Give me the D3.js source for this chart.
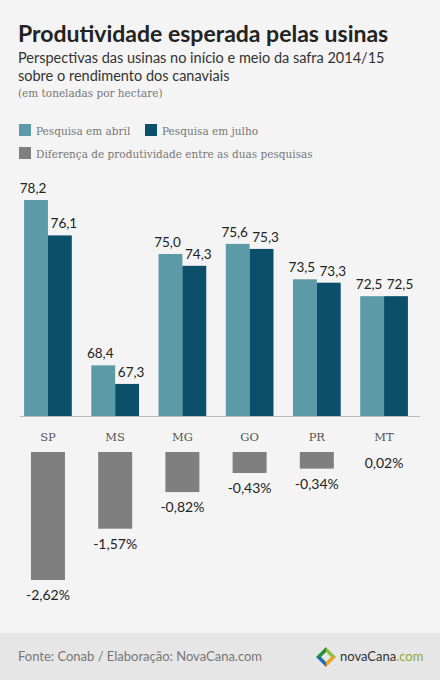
<!DOCTYPE html>
<html><head><meta charset="utf-8">
<script src="https://cdn.jsdelivr.net/npm/d3@7"></script>
<style>body{margin:0;background:#f4f4f4}</style></head>
<body><svg id="c" width="440" height="680"></svg>
<script>
const categories=["SP","MS","MG","GO","PR","MT"];
const abril=[78.2,68.4,75.0,75.6,73.5,72.5];
const julho=[76.1,67.3,74.3,75.3,73.3,72.5];
const diff=[-2.62,-1.57,-0.82,-0.43,-0.34,0.02];
const fmt=v=>v.toFixed(1).replace(".",",");
const fmtP=v=>v.toFixed(2).replace(".",",")+"%";

const svg=d3.select("#c");
svg.append("rect").attr("width",440).attr("height",680).attr("fill","#f4f4f4");
svg.append("rect").attr("y",633).attr("width",440).attr("height",47).attr("fill","#e6e6e6");
const sans="Lato, 'Open Sans', sans-serif";
const slab="'DejaVu Serif', serif";
svg.append("text").attr("x",18).attr("y",42).attr("font-family",sans).attr("font-weight",700).attr("font-size",23).attr("fill","#222").text("Produtividade esperada pelas usinas");
svg.append("text").attr("x",18).attr("y",63).attr("font-family",sans).attr("font-size",14.5).attr("fill","#333").text("Perspectivas das usinas no início e meio da safra 2014/15");
svg.append("text").attr("x",18).attr("y",81).attr("font-family",sans).attr("font-size",14.5).attr("fill","#333").text("sobre o rendimento dos canaviais");
svg.append("text").attr("x",18).attr("y",97).attr("font-family",slab).attr("font-size",10.5).attr("fill","#777").text("(em toneladas por hectare)");

const cA="#5c9aa8",cJ="#0b4f6a",cD="#7f7f7f";
const leg=[[19,124,cA,"Pesquisa em abril"],[145,124,cJ,"Pesquisa em julho"],[19,147,cD,"Diferença de produtividade entre as duas pesquisas"]];
leg.forEach(([x,y,c,t])=>{
  svg.append("rect").attr("x",x).attr("y",y).attr("width",12).attr("height",12).attr("fill",c);
  svg.append("text").attr("x",x+17).attr("y",y+10.5).attr("font-family",slab).attr("font-size",10.5).attr("fill","#777").text(t);
});

const x=d3.scaleBand().domain(categories).range([14,418]).paddingInner(0.29).paddingOuter(0.15);
const y=d3.scaleLinear().domain([65.4,78.2]).range([416,200]);
const yd=d3.scaleLinear().domain([0,-2.62]).range([452,580]);
const bw=x.bandwidth()/2;
const g=svg.append("g");
categories.forEach((c,i)=>{
  const x0=x(c);
  g.append("rect").attr("x",x0).attr("y",y(abril[i])).attr("width",bw).attr("height",y.range()[0]-y(abril[i])).attr("fill",cA);
  g.append("rect").attr("x",x0+bw).attr("y",y(julho[i])).attr("width",bw).attr("height",y.range()[0]-y(julho[i])).attr("fill",cJ);
  g.append("text").attr("x",x0+bw/2-3).attr("y",y(abril[i])-7).attr("text-anchor","middle").attr("font-family",sans).attr("font-size",13.5).attr("fill","#222").text(fmt(abril[i]));
  g.append("text").attr("x",x0+bw*1.5+4).attr("y",y(julho[i])-7).attr("text-anchor","middle").attr("font-family",sans).attr("font-size",13.5).attr("fill","#222").text(fmt(julho[i]));
  const cx=x0+bw;
  g.append("text").attr("x",cx).attr("y",441).attr("text-anchor","middle").attr("font-family",slab).attr("font-size",11.5).attr("fill","#555").text(c);
  const v=diff[i];
  const h=v<0?yd(v)-yd(0):0;
  if(h>0) g.append("rect").attr("x",cx-17).attr("y",yd(0)).attr("width",34).attr("height",h).attr("fill",cD);
  g.append("text").attr("x",cx).attr("y",(v<0?yd(v):yd(0))+(v<0?20:16)).attr("text-anchor","middle").attr("font-family",sans).attr("font-size",14).attr("fill","#222").text(fmtP(v));
});
g.append("line").attr("x1",20).attr("x2",420).attr("y1",416.5).attr("y2",416.5).attr("stroke","#bbb");

svg.append("text").attr("x",18).attr("y",661).attr("font-family",sans).attr("font-size",13).attr("fill","#777").text("Fonte: Conab / Elaboração: NovaCana.com");
const lg=svg.append("g").attr("transform","translate(316,657)");
lg.append("path").attr("d","M0,0 L10,-10 L10,-5 L5,0 Z").attr("fill","#2a8a3e");
lg.append("path").attr("d","M10,-10 L20,0 L15,0 L10,-5 Z").attr("fill","#8cbf3f");
lg.append("path").attr("d","M20,0 L10,10 L10,5 L15,0 Z").attr("fill","#f0a020");
lg.append("path").attr("d","M10,10 L0,0 L5,0 L10,5 Z").attr("fill","#1f6fb0");
svg.append("text").attr("x",340).attr("y",661).attr("font-family",sans).attr("font-size",13).attr("fill","#333").html('novaCana<tspan fill="#8aab3a">.com</tspan>');
</script></body></html>
